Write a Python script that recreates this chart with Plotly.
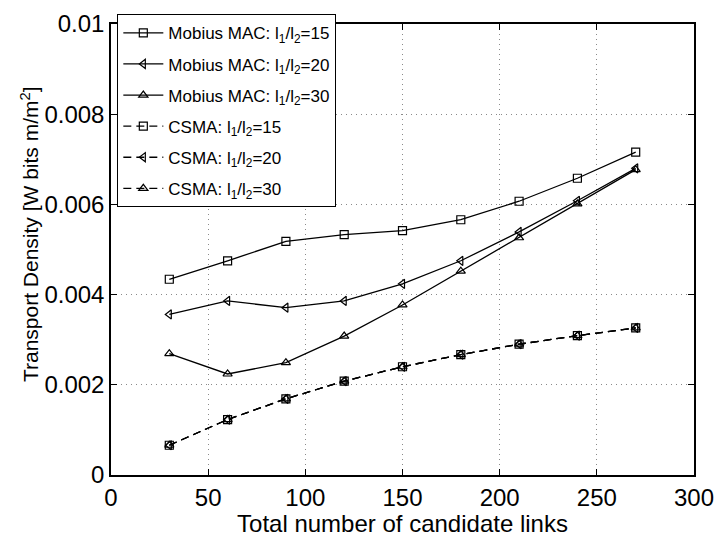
import plotly.graph_objects as go

# Number of candidate links on the x axis
links = [30, 60, 90, 120, 150, 180, 210, 240, 270]

# Transport density (W bits m/m^2)
mobius_15 = [0.00434, 0.00475, 0.00518, 0.00533, 0.00542, 0.00566, 0.00607, 0.00658, 0.00716]
mobius_20 = [0.00356, 0.00386, 0.00371, 0.00386, 0.00424, 0.00475, 0.00539, 0.00608, 0.00680]
mobius_30 = [0.00269, 0.00224, 0.00249, 0.00308, 0.00377, 0.00452, 0.00526, 0.00601, 0.00677]
csma_15 = [0.00066, 0.00123, 0.00169, 0.00208, 0.00240, 0.00267, 0.00290, 0.00309, 0.00326]
csma_20 = [0.00066, 0.00123, 0.00169, 0.00208, 0.00240, 0.00267, 0.00290, 0.00309, 0.00326]
csma_30 = [0.00066, 0.00123, 0.00169, 0.00208, 0.00240, 0.00267, 0.00290, 0.00309, 0.00326]

x_ticks = [0, 50, 100, 150, 200, 250, 300]
y_ticks = [0, 0.002, 0.004, 0.006, 0.008, 0.01]
y_tick_text = ["0", "0.002", "0.004", "0.006", "0.008", "0.01"]

FONT = "Liberation Sans, Arial, Helvetica, sans-serif"

series = [
    ("Mobius MAC: l<sub>1</sub>/l<sub>2</sub>=15", mobius_15, "square-open", "solid"),
    ("Mobius MAC: l<sub>1</sub>/l<sub>2</sub>=20", mobius_20, "triangle-left-open", "solid"),
    ("Mobius MAC: l<sub>1</sub>/l<sub>2</sub>=30", mobius_30, "triangle-up-open", "solid"),
    ("CSMA: l<sub>1</sub>/l<sub>2</sub>=15", csma_15, "square-open", "8px,5px"),
    ("CSMA: l<sub>1</sub>/l<sub>2</sub>=20", csma_20, "triangle-left-open", "8px,5px"),
    ("CSMA: l<sub>1</sub>/l<sub>2</sub>=30", csma_30, "triangle-up-open", "8px,5px"),
]

fig = go.Figure()
for i, (name, vals, sym, dash) in enumerate(series):
    fig.add_trace(go.Scatter(
        x=links, y=vals, name=name, mode="lines+markers", legendgroup=f"g{i}",
        line=dict(color="black", width=1.3, dash=dash),
        marker=dict(symbol=sym, size=8, color="black", line=dict(width=1.2, color="black")),
    ))

axis_common = dict(
    showline=True, linecolor="black", linewidth=1.5, mirror="ticks",
    ticks="inside", ticklen=6, tickwidth=1.2, tickcolor="black",
    showgrid=True, gridcolor="#8a8a8a", gridwidth=1, griddash="1px,4px",
    zeroline=False, ticklabeloverflow="allow",
    tickfont=dict(family=FONT, size=24, color="black"),
)

fig.update_xaxes(
    range=[0, 300], tickvals=x_ticks, ticktext=[str(v) for v in x_ticks],
    title=dict(text="Total number of candidate links", font=dict(family=FONT, size=24, color="black"), standoff=0),
    **axis_common,
)
fig.update_yaxes(
    range=[0, 0.01], tickvals=y_ticks, ticktext=y_tick_text,
    **axis_common,
)

# Y axis label placed as a rotated annotation
fig.add_annotation(
    text="Transport Density [W bits m/m<sup>2</sup>]",
    xref="paper", yref="paper", x=-0.14, y=0.535,
    xanchor="center", yanchor="middle", textangle=-90, showarrow=False,
    font=dict(family=FONT, size=21, color="black"),
)

fig.update_layout(
    width=724, height=537,
    margin=dict(l=111, r=23, t=10, b=60),
    paper_bgcolor="white", plot_bgcolor="white",
    font=dict(family=FONT, color="black"),
    legend=dict(
        x=0.0105, y=1.022, xanchor="left", yanchor="top",
        bgcolor="white", bordercolor="black", borderwidth=1.2,
        font=dict(family=FONT, size=17, color="black"),
        itemwidth=40, tracegroupgap=6,
        entrywidth=185, entrywidthmode="pixels",
    ),
)

fig.write_html("out.html")
